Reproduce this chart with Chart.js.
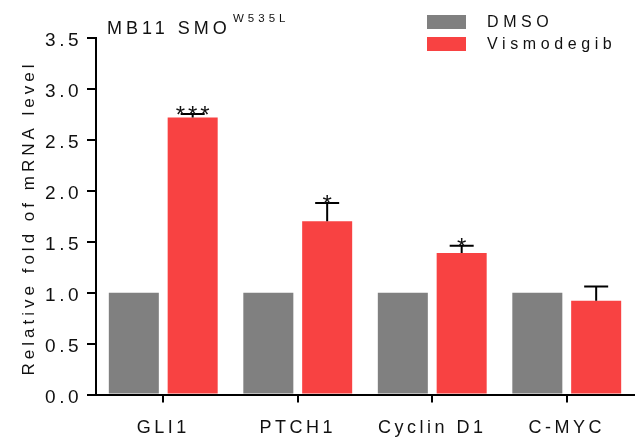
<!DOCTYPE html>
<html>
<head>
<meta charset="utf-8">
<script src="https://cdn.jsdelivr.net/npm/chart.js@4/dist/chart.umd.min.js"></script>
<style>
  html, body { margin: 0; padding: 0; background: #ffffff; }
  #wrap { width: 636px; height: 437px; }
</style>
</head>
<body>
<div id="wrap"><canvas id="chart" width="636" height="437"></canvas></div>
<script>
// Genes on the x axis
const categories = ['GLI1', 'PTCH1', 'Cyclin D1', 'C-MYC'];
// Series names
const seriesNames = ['DMSO', 'Vismodegib'];
// Relative mRNA fold change per gene
const dmsoValues = [1.0, 1.0, 1.0, 1.0];
const vismodegibValues = [2.72, 1.70, 1.39, 0.92];
// Upper error (SEM) for the Vismodegib bars
const vismodegibError = [0.035, 0.18, 0.07, 0.14];
// Significance marks above the Vismodegib bars
const significance = ['***', '*', '*', ''];
// Y axis range and tick step
const yMin = 0, yMax = 3.5, yStep = 0.5;

const FONT = '"Liberation Sans", Arial, Helvetica, sans-serif';
const GRAY = '#808080';
const RED = '#F84242';
const INK = '#111111';

// Wide tracking for the axis text drawn by Chart.js
const spacingPlugin = {
  id: 'letterSpacing',
  beforeDraw(chart) {
    chart.ctx.letterSpacing = '3.5px';
  }
};

const annotationPlugin = {
  id: 'annotations',
  afterDatasetsDraw(chart) {
    const ctx = chart.ctx;
    const y = chart.scales.y;
    const meta = chart.getDatasetMeta(1);
    ctx.save();
    ctx.strokeStyle = '#000';
    ctx.lineWidth = 2;
    meta.data.forEach((bar, i) => {
      const top = y.getPixelForValue(vismodegibValues[i]);
      const errTop = y.getPixelForValue(vismodegibValues[i] + vismodegibError[i]);
      ctx.beginPath();
      ctx.moveTo(bar.x, top);
      ctx.lineTo(bar.x, errTop);
      ctx.moveTo(bar.x - 12, errTop);
      ctx.lineTo(bar.x + 12, errTop);
      ctx.stroke();
      if (significance[i]) {
        ctx.fillStyle = INK;
        ctx.font = '24px ' + FONT;
        ctx.letterSpacing = '3px';
        ctx.textAlign = 'center';
        ctx.textBaseline = 'alphabetic';
        ctx.fillText(significance[i], bar.x + 1.5, errTop + 9);
      }
    });
    ctx.restore();
  },
  afterDraw(chart) {
    const ctx = chart.ctx;
    ctx.save();
    ctx.fillStyle = INK;
    ctx.textAlign = 'left';
    ctx.textBaseline = 'alphabetic';

    // Panel title with superscript mutation
    ctx.letterSpacing = '4px';
    ctx.font = '18px ' + FONT;
    ctx.fillText('MB11 SMO', 107, 34);
    ctx.font = '11.5px ' + FONT;
    ctx.letterSpacing = '4px';
    ctx.fillText('W535L', 233, 22);

    // Legend
    const colors = [GRAY, RED];
    ctx.font = '16px ' + FONT;
    ctx.letterSpacing = '4.6px';
    ctx.textBaseline = 'middle';
    seriesNames.forEach((name, i) => {
      ctx.fillStyle = colors[i];
      ctx.fillRect(427, 15 + i * 22, 39, 14);
      ctx.fillStyle = INK;
      ctx.fillText(name, 487, 23 + i * 22);
    });

    // Y axis title
    ctx.font = '17px ' + FONT;
    ctx.letterSpacing = '4px';
    ctx.translate(34, 218);
    ctx.rotate(-Math.PI / 2);
    ctx.textAlign = 'center';
    ctx.textBaseline = 'alphabetic';
    ctx.fillText('Relative fold of mRNA level', 0, 0);
    ctx.restore();
  }
};

new Chart(document.getElementById('chart'), {
  type: 'bar',
  data: {
    labels: categories,
    datasets: [
      { label: seriesNames[0], data: dmsoValues, backgroundColor: GRAY,
        categoryPercentage: 0.875, barPercentage: 0.85, borderWidth: 0 },
      { label: seriesNames[1], data: vismodegibValues, backgroundColor: RED,
        categoryPercentage: 0.875, barPercentage: 0.85, borderWidth: 0 }
    ]
  },
  options: {
    responsive: false,
    animation: false,
    devicePixelRatio: 1,
    layout: { padding: { top: 38, right: 2, left: 0, bottom: 0 } },
    plugins: {
      legend: { display: false },
      title: { display: false },
      tooltip: { enabled: false }
    },
    scales: {
      x: {
        type: 'category',
        offset: true,
        grid: { display: true, offset: false, drawOnChartArea: false, drawTicks: true,
                tickLength: 8, color: '#000', lineWidth: 2 },
        border: { display: true, color: '#000', width: 2 },
        ticks: { color: INK, font: { family: FONT, size: 18 }, padding: 15, maxRotation: 0 },
        afterFit(scale) { scale.height = 42.5; }
      },
      y: {
        min: yMin,
        max: yMax,
        grid: { display: true, drawOnChartArea: false, drawTicks: true,
                tickLength: 9, color: '#000', lineWidth: 2 },
        border: { display: true, color: '#000', width: 2 },
        ticks: { stepSize: yStep, color: INK, font: { family: FONT, size: 19 }, padding: 5,
                 labelOffset: 3, callback: v => Number(v).toFixed(1) },
        afterFit(scale) { scale.width = 96; }
      }
    }
  },
  plugins: [spacingPlugin, annotationPlugin]
});
</script>
</body>
</html>
